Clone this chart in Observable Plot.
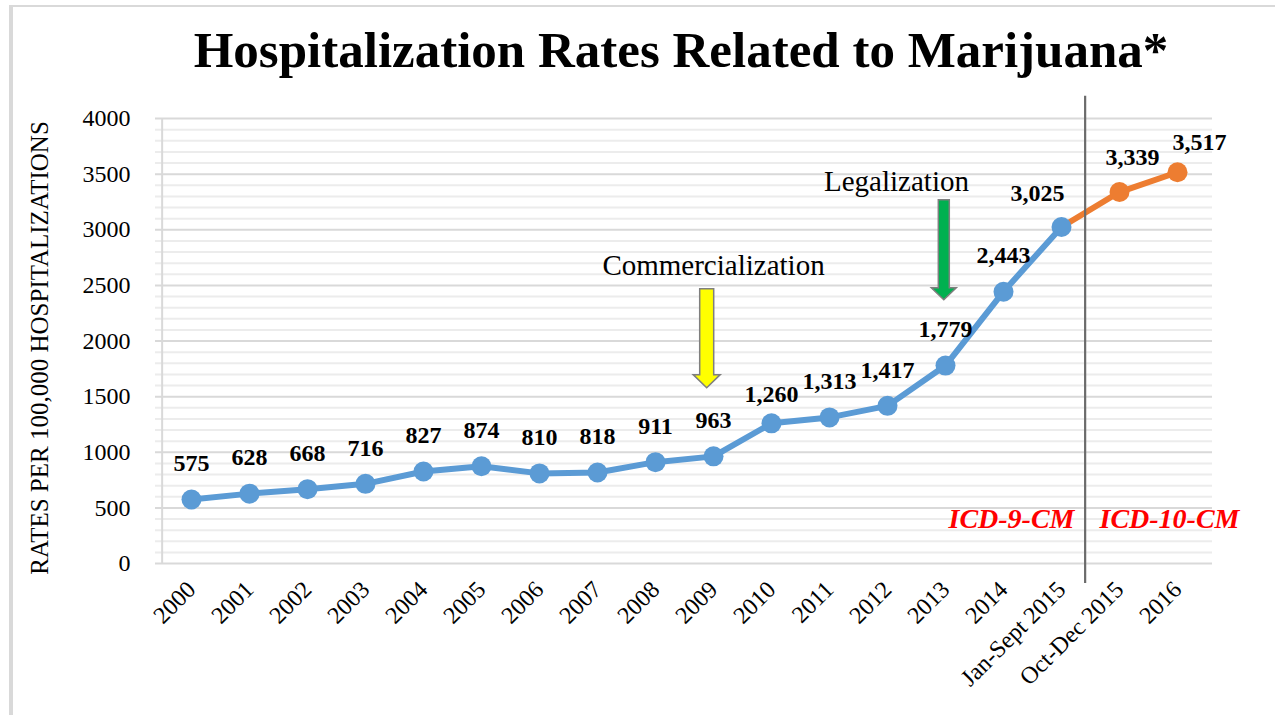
<!DOCTYPE html>
<html>
<head>
<meta charset="utf-8">
<script src="https://cdn.jsdelivr.net/npm/d3@7"></script>
<script src="https://cdn.jsdelivr.net/npm/@observablehq/plot@0.6"></script>
<style>
  body { margin: 0; background: #fff; }
  #wrap { position: relative; width: 1275px; height: 715px; overflow: hidden; font-family: "Liberation Serif", serif; background: #fff; }
  #bTop { position: absolute; left: 9px; top: 5px; width: 1266px; height: 2px; background: #d9d9d9; }
  #bLeft { position: absolute; left: 9px; top: 5px; width: 4px; height: 710px; background: #d9d9d9; }
  #title { position: absolute; left: 0; top: 21px; width: 1362px; text-align: center; font-size: 51px; font-weight: bold; color: #000; white-space: nowrap; }
  #ylab { position: absolute; left: 40px; top: 348px; transform: translate(-50%, -50%) rotate(-90deg); font-size: 25px; white-space: nowrap; color: #000; }
  #chart { position: absolute; left: 0; top: 0; }
</style>
</head>
<body>
<div id="wrap">
  <div id="bTop"></div>
  <div id="bLeft"></div>
  <div id="chart"></div>
  <div id="title">Hospitalization Rates Related to Marijuana*</div>
  <div id="ylab">RATES PER 100,000 HOSPITALIZATIONS</div>
</div>
<script>
// ---- data ----
const categories = ["2000","2001","2002","2003","2004","2005","2006","2007","2008","2009",
  "2010","2011","2012","2013","2014","Jan-Sept 2015","Oct-Dec 2015","2016"];
const rates = [575, 628, 668, 716, 827, 874, 810, 818, 911, 963,
  1260, 1313, 1417, 1779, 2443, 3025, 3339, 3517];
const icd9Categories = categories.slice(0, 16);   // ICD-9-CM period
const icd10Categories = categories.slice(16);     // ICD-10-CM period
const yTicks = [0, 500, 1000, 1500, 2000, 2500, 3000, 3500, 4000];
const annotations = ["Commercialization", "Legalization"];
const codeLabels = ["ICD-9-CM", "ICD-10-CM"];

// ---- layout ----
const W = 1275, H = 715;
const mL = 155, mR = 63, mT = 118, mB = 152;
const step = (W - mL - mR) / categories.length;
const fmt = d3.format(",");

const table = categories.map((c, i) => ({cat: c, rate: rates[i]}));
const blueData = table.filter(d => icd9Categories.includes(d.cat));
const orangeData = table.filter((d, i) => i >= 15);
const orangeDots = table.filter(d => icd10Categories.includes(d.cat));

const BLUE = "#5B9BD5", ORANGE = "#ED7D31";

const special = {"2010": [0, -29], "Jan-Sept 2015": [-24, -34], "Oct-Dec 2015": [13, -35], "2016": [22, -30]};
const plainLabels = table.filter(d => !(d.cat in special));

function blockArrow(cat, dx, yTop, yBase, yTip, shaftHalf, headHalf, fill) {
  return (index, scales) => {
    const cx = scales.x(cat) + dx;
    const t = scales.y(yTop), b = scales.y(yBase), tip = scales.y(yTip);
    const pts = [[cx - shaftHalf, t], [cx + shaftHalf, t], [cx + shaftHalf, b], [cx + headHalf, b],
                 [cx, tip], [cx - headHalf, b], [cx - shaftHalf, b]];
    const p = document.createElementNS("http://www.w3.org/2000/svg", "polygon");
    p.setAttribute("points", pts.map(d => d.join(",")).join(" "));
    p.setAttribute("fill", fill);
    p.setAttribute("stroke", "#7f7f7f");
    p.setAttribute("stroke-width", "1.5");
    return p;
  };
}

const marks = [
  Plot.ruleY(d3.range(0, 4001, 100).filter(v => v % 500 !== 0), {stroke: "#ececec", strokeWidth: 2}),
  Plot.ruleY(yTicks, {stroke: "#d9d9d9", strokeWidth: 2}),
  Plot.ruleX([categories[0]], {y1: 0, y2: 4000, dx: -step / 2, stroke: "#d9d9d9", strokeWidth: 2}),
  Plot.line(orangeData, {x: "cat", y: "rate", stroke: ORANGE, strokeWidth: 6}),
  Plot.line(blueData, {x: "cat", y: "rate", stroke: BLUE, strokeWidth: 6, strokeLinejoin: "round"}),
  Plot.dot(blueData, {x: "cat", y: "rate", r: 10, fill: BLUE}),
  Plot.dot(orangeDots, {x: "cat", y: "rate", r: 10, fill: ORANGE}),
  Plot.ruleX(["Oct-Dec 2015"], {y1: 4200, y2: -180, dx: -step / 2 - 5, stroke: "#6b6b6b", strokeWidth: 2.2}),
  Plot.text(plainLabels, {x: "cat", y: "rate", text: d => fmt(d.rate), dy: -36, fontWeight: "bold", fontSize: 24, fill: "#000"}),
  ...Object.entries(special).map(([c, [dx, dy]]) =>
    Plot.text(table.filter(d => d.cat === c), {x: "cat", y: "rate", text: d => fmt(d.rate), dx, dy, fontWeight: "bold", fontSize: 24, fill: "#000"})),
  Plot.text([annotations[0]], {x: () => "2009", y: () => 2681, text: d => d, fontSize: 29, fill: "#000"}),
  Plot.text([annotations[1]], {x: () => "2013", y: () => 3436, dx: -49, text: d => d, fontSize: 29, fill: "#000"}),
  Plot.text([codeLabels[0]], {x: () => "Jan-Sept 2015", y: () => 398, dx: 13, textAnchor: "end", text: d => d, fontSize: 28, fontWeight: "bold", fontStyle: "italic", fill: "#ff0000"}),
  Plot.text([codeLabels[1]], {x: () => "Oct-Dec 2015", y: () => 398, dx: -20, textAnchor: "start", text: d => d, fontSize: 28, fontWeight: "bold", fontStyle: "italic", fill: "#ff0000"}),
  blockArrow("2009", -6.3, 2466, 1693, 1576, 7, 13.5, "#ffff00"),
  blockArrow("2013", -1.2, 3265, 2474, 2366, 5.5, 12.5, "#00b050")
];

const chart = Plot.plot({
  width: W, height: H,
  marginLeft: mL, marginRight: mR, marginTop: mT, marginBottom: mB,
  style: {fontFamily: "'Liberation Serif', serif", fontSize: "24px", color: "#000", background: "transparent", overflow: "visible"},
  x: {type: "point", domain: categories, padding: 0.5, tickRotate: -45, tickSize: 0, tickPadding: 22, label: null},
  y: {domain: [0, 4000], ticks: yTicks, tickFormat: d3.format("d"), tickSize: 0, tickPadding: 25, label: null},
  marks
});
document.getElementById("chart").appendChild(chart);
</script>
</body>
</html>
